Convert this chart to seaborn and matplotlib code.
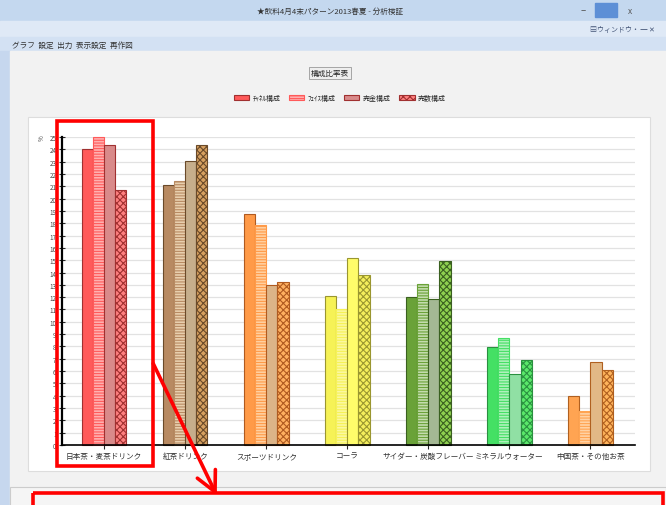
import pandas as pd
import seaborn as sns
import matplotlib.pyplot as plt
from matplotlib.patches import Rectangle, Patch

# data
categories = ['日本茶・麦茶ドリンク', '紅茶ドリンク', 'スポーツドリンク', 'コーラ',
              'サイダー・炭酸フレーバー', 'ミネラルウォーター', '中国茶・その他お茶']
series = ['ﾁｬﾈﾙ構成', 'ﾌｪｲｽ構成', '売金構成', '売数構成']
channel = [24.0, 21.1, 18.75, 12.1, 12.0, 7.95, 4.0]
face = [25.0, 21.4, 17.85, 11.05, 13.05, 8.7, 2.75]
sales_amount = [24.35, 23.05, 13.0, 15.2, 11.85, 5.75, 6.75]
sales_count = [20.7, 24.35, 13.2, 13.8, 14.95, 6.9, 6.1]
y_ticks = list(range(0, 26))

# colours per category: (solid, stripe base, muted, checker)
palette = [
    ('#ff5a5a', '#ffb0b0', '#d98a8a', '#ff8080'),
    ('#b88a62', '#e8cfae', '#c6ae8c', '#d6a060'),
    ('#ff9a48', '#ffd0a0', '#dcb488', '#ffb060'),
    ('#f6f256', '#fbf8a0', '#fffc6a', '#f4ee5c'),
    ('#6aa238', '#c4dcae', '#a4b894', '#8ed050'),
    ('#44e064', '#b0f0bc', '#90e0a4', '#5ae86a'),
    ('#ffa452', '#ffd2a4', '#e2b886', '#ffb45c'),
]
edges = ['#a03030', '#6a4a2a', '#b05a20', '#9a9630', '#3a6020', '#2a9040', '#b06020']

df = pd.DataFrame({
    'category': categories * 4,
    'series': [s for s in series for _ in categories],
    'value': channel + face + sales_amount + sales_count,
})

sns.set_theme(style='white')
plt.rcParams['font.family'] = ['Noto Sans CJK JP', 'DejaVu Sans']
plt.rcParams['hatch.linewidth'] = 0.8

W, H = 666, 506
fig = plt.figure(figsize=(W / 100, H / 100), dpi=100)

# window chrome behind the chart
bg = fig.add_axes([0, 0, 1, 1])
bg.set_xlim(0, W)
bg.set_ylim(H, 0)
bg.axis('off')
bg.add_patch(Rectangle((0, 0), W, 22, color='#c4d8ef'))
bg.add_patch(Rectangle((0, 22), W, 16, color='#dfe9f6'))
bg.add_patch(Rectangle((0, 38), W, 14, color='#d3e1f3'))
bg.add_patch(Rectangle((0, 52), 10, H - 52, color='#c6d7ee'))
bg.add_patch(Rectangle((10, 52), W - 10, H - 52, color='#f2f2f2'))
bg.add_patch(Rectangle((28, 118), 622, 354, facecolor='white', edgecolor='#dddddd', lw=0.8))
bg.add_patch(Rectangle((10, 488), W - 10, 20, facecolor='#f5f5f5', edgecolor='#cccccc', lw=0.8))
bg.add_patch(Rectangle((595, 4), 22, 14, color='#5d8fd6'))
bg.text(583, 11, '–', fontsize=7, color='#555555', ha='center', va='center')
bg.text(630, 11, 'x', fontsize=6, color='#555555', ha='center', va='center')
bg.text(330, 12, '★飲料4月4末パターン2013春夏 - 分析検証', fontsize=5.5, color='#333333',
        ha='center', va='center')
bg.text(590, 30, '▤ウィンドウ・ ━ ✕', fontsize=5, color='#445577', ha='left', va='center')
bg.text(12, 46, 'グラフ  設定  出力  表示設定  再作図', fontsize=5.5, color='#333333',
        ha='left', va='center')

# chart
ax = fig.add_axes([62 / W, (H - 446) / H, 573 / W, 308 / H])
ax.set_facecolor('none')
sns.barplot(data=df, x='category', y='value', hue='series', order=categories,
            hue_order=series, width=0.55, saturation=1, legend=False, ax=ax)
hatches = ['', '------', '', 'xxxxx']
for k, cont in enumerate(ax.containers):
    for j, bar in enumerate(cont):
        bar.set_facecolor(palette[j][k])
        bar.set_edgecolor(palette[j][0] if k == 1 else edges[j])
        bar.set_hatch(hatches[k])
        bar.set_linewidth(0.8)
        bar.set_clip_on(False)

ax.set_xlim(-0.52, 6.55)
ax.set_ylim(0, 25)
ax.set_yticks(y_ticks)
ax.set_yticklabels([str(t) for t in y_ticks], fontsize=4.5, color='#444444')
ax.set_xticklabels(categories, fontsize=5.5, color='#333333')
ax.set_xlabel('')
ax.set_ylabel('')
ax.grid(axis='y', color='#e2e2e2', lw=0.9)
ax.set_axisbelow(True)
for s in ['top', 'right']:
    ax.spines[s].set_visible(False)
ax.spines['left'].set_color('black')
ax.spines['left'].set_linewidth(1.6)
ax.spines['bottom'].set_color('black')
ax.spines['bottom'].set_linewidth(1.2)
ax.tick_params(axis='y', direction='inout', length=4, width=0.8, pad=2, left=True)
ax.tick_params(axis='x', direction='out', length=3, width=0.8, pad=2, bottom=True)
ax.text(-0.035, 25, '%', transform=ax.get_yaxis_transform(), fontsize=4.5, rotation=90,
        ha='center', va='center', color='#444444')

fig.text(330 / W, 1 - 74 / H, '構成比率表', fontsize=5.5, ha='center', va='center',
         bbox=dict(boxstyle='square,pad=0.3', facecolor='#eeeeee', edgecolor='#999999', lw=0.6))
handles = [Patch(facecolor=palette[0][k], edgecolor=palette[0][0] if k == 1 else edges[0],
                 hatch=hatches[k], lw=0.8) for k in range(4)]
fig.legend(handles, series, ncol=4, loc='center', bbox_to_anchor=(340 / W, 1 - 99 / H),
           frameon=False, fontsize=5, handlelength=2.2, handleheight=0.9,
           columnspacing=1.2, handletextpad=0.5)

# red annotation marks on top
fg = fig.add_axes([0, 0, 1, 1])
fg.set_facecolor('none')
fg.set_xlim(0, W)
fg.set_ylim(H, 0)
fg.axis('off')
fg.add_patch(Rectangle((57, 122), 96, 345, fill=False, edgecolor='#ff0000', lw=2.6))
fg.add_patch(Rectangle((33, 494), 630, 20, fill=False, edgecolor='#ff0000', lw=2.6, clip_on=False))
fg.annotate('', xy=(218, 499), xytext=(152, 362),
            arrowprops=dict(arrowstyle='->,head_length=1.2,head_width=0.6', color='#ff0000', lw=2.6))

fig.savefig('out.png', dpi=100)
